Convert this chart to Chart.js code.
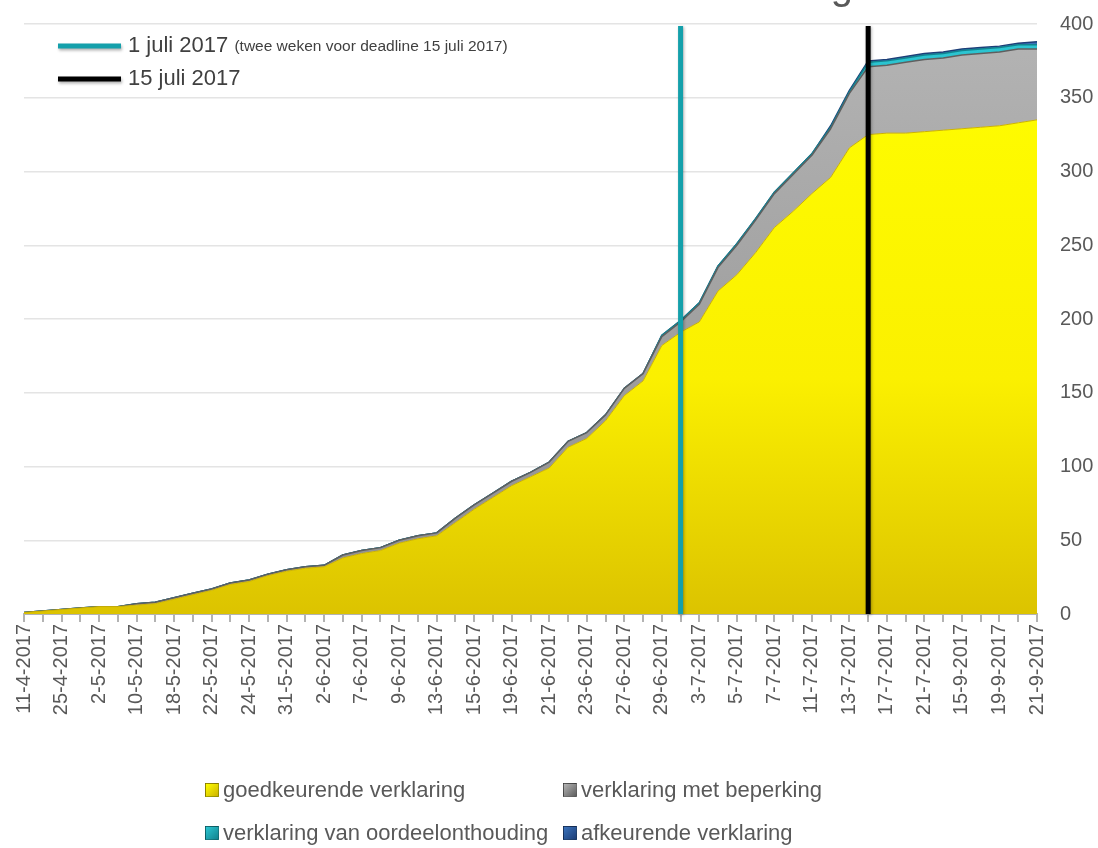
<!DOCTYPE html>
<html><head><meta charset="utf-8">
<script src="https://cdn.jsdelivr.net/npm/chart.js@4.4.0/dist/chart.umd.min.js"></script>
<style>
html,body{margin:0;padding:0;background:#fff;overflow:hidden;}
#wrap{position:relative;width:1098px;height:848px;}
#c{position:absolute;left:0;top:0;}
#legend{position:absolute;left:0;top:0;width:1098px;height:848px;pointer-events:none;font-family:'Liberation Sans',Arial,sans-serif;font-size:22px;color:#595959;}
.item{position:absolute;display:flex;align-items:center;white-space:nowrap;height:26px;}
.box{width:14px;height:14px;margin-right:4px;box-sizing:border-box;border:1px solid rgba(0,0,0,0.35);}
</style></head>
<body><div id="wrap"><canvas id="c" width="1098" height="848"></canvas><div id="legend"></div></div>
<script>
const chartTitle = 'Aantal en soort controleverklaring';

const categories = [
  '11-4-2017','20-4-2017','25-4-2017','27-4-2017','2-5-2017','8-5-2017','10-5-2017','15-5-2017',
  '18-5-2017','19-5-2017','22-5-2017','23-5-2017','24-5-2017','29-5-2017','31-5-2017','1-6-2017',
  '2-6-2017','6-6-2017','7-6-2017','8-6-2017','9-6-2017','12-6-2017','13-6-2017','14-6-2017',
  '15-6-2017','16-6-2017','19-6-2017','20-6-2017','21-6-2017','22-6-2017','23-6-2017','26-6-2017',
  '27-6-2017','28-6-2017','29-6-2017','30-6-2017','3-7-2017','4-7-2017','5-7-2017','6-7-2017',
  '7-7-2017','10-7-2017','11-7-2017','12-7-2017','13-7-2017','14-7-2017','17-7-2017','18-7-2017',
  '21-7-2017','1-9-2017','15-9-2017','18-9-2017','19-9-2017','20-9-2017','21-9-2017'
];

const goedkeurend = [1,2,3,4,5,5,6,7,10,13,16,20,22,26,29,31,32,38,41,43,48,51,53,62,71,79,87,93,99,113,119,131,148,158,182,191,198,219,230,245,262,273,285,296,316,325,326,326,327,328,329,330,331,333,335];
const beperking = [0,0,0,0,0,0,1,1,1,1,1,1,1,1,1,1,1,2,2,2,2,2,2,3,3,3,3,3,4,4,4,4,5,5,6,7,12,16,20,22,23,25,26,33,37,46,46,48,49,49,50,50,50,50,48];
const oordeelonthouding = [0,0,0,0,0,0,0,0,0,0,0,0,0,0,0,0,0,0,0,0,0,0,0,0,0,0,0,0,0,0,0,0,0,0,1,1,1,1,1,1,1,1,1,1,1,3,3,3,3,3,3,3,3,3,3];
const afkeurend = [0,0,0,0,0,0,0,0,0,0,0,0,0,0,0,0,0,0,0,0,0,0,0,0,0,0,0,0,0,0,0,0,0,0,0,0,0,0,0,0,0,0,0,1,1,1,1,1,1,1,1,1,1,1,2];

const seriesNames = ['goedkeurende verklaring','verklaring met beperking','verklaring van oordeelonthouding','afkeurende verklaring'];
const seriesColors = ['#f2e200','#9c9c9c','#1fb8c6','#2a5ea6'];
const seriesBorders = ['#cdb300','#5f5f5f','#12848f','#1d3f78'];

const yMin = 0, yMax = 400, yStep = 50;

const markerDates = ['30-6-2017','14-7-2017'];
const markerLabels = ['1 juli 2017','15 juli 2017'];
const markerNotes = ['(twee weken voor deadline 15 juli 2017)',''];
const markerColors = ['#14a0ab','#000000'];

function grad(ctx, area, stops){
  const g = ctx.createLinearGradient(0, area.top, 0, area.bottom);
  stops.forEach(s=>g.addColorStop(s[0], s[1]));
  return g;
}
const fillStops = [
  [[0,'#ffff00'],[0.6,'#fbf000'],[1,'#dcc300']],
  [[0,'#b4b4b4'],[1,'#8e8e8e']],
  [[0,'#2cc6d2'],[1,'#1aa8b5']],
  [[0,'#3a72bb'],[1,'#2a5ea6']]
];
const values = [goedkeurend, beperking, oordeelonthouding, afkeurend];

const datasets = values.map((v,i)=>({
  label: seriesNames[i],
  data: v,
  fill: i===0 ? 'origin' : '-1',
  backgroundColor: (c)=>{ const a=c.chart.chartArea; return a ? grad(c.chart.ctx, a, fillStops[i]) : seriesColors[i]; },
  borderColor: seriesBorders[i],
  borderWidth: i===0 ? 1 : 1.5,
  pointRadius: 0,
  tension: 0
}));

const extras = {
  id: 'extras',
  afterDatasetsDraw(chart){
    const {ctx, chartArea, scales} = chart;
    markerDates.forEach((d,i)=>{
      const px = scales.x.getPixelForValue(categories.indexOf(d));
      ctx.save();
      ctx.shadowColor='rgba(0,0,0,0.3)'; ctx.shadowBlur=3; ctx.shadowOffsetX=1; ctx.shadowOffsetY=1;
      ctx.strokeStyle = markerColors[i]; ctx.lineWidth = 5;
      ctx.beginPath(); ctx.moveTo(px, chartArea.top + 2); ctx.lineTo(px, chartArea.bottom); ctx.stroke();
      ctx.restore();
    });
  },
  afterDraw(chart){
    const ctx = chart.ctx;
    // title (cut off at top as in reference)
    ctx.save();
    ctx.font = '40px "Liberation Sans", Arial, sans-serif';
    ctx.fillStyle = '#595959';
    ctx.textAlign = 'center'; ctx.textBaseline = 'alphabetic';
    ctx.fillText(chartTitle, 555, -1);
    ctx.restore();
    // marker legend
    markerLabels.forEach((lab,i)=>{
      const y = 46 + i*33;
      ctx.save();
      ctx.shadowColor='rgba(0,0,0,0.3)'; ctx.shadowBlur=3; ctx.shadowOffsetX=1; ctx.shadowOffsetY=2;
      ctx.strokeStyle = markerColors[i]; ctx.lineWidth = 5;
      ctx.beginPath(); ctx.moveTo(58, y); ctx.lineTo(121, y); ctx.stroke();
      ctx.restore();
      ctx.save();
      ctx.fillStyle = '#404040'; ctx.textBaseline = 'middle'; ctx.textAlign = 'left';
      ctx.font = '22px "Liberation Sans", Arial, sans-serif';
      ctx.fillText(lab, 128, y);
      const w = ctx.measureText(lab + ' ').width;
      if (markerNotes[i]) {
        ctx.font = '15.5px "Liberation Sans", Arial, sans-serif';
        ctx.fillText(markerNotes[i], 128 + w, y + 1);
      }
      ctx.restore();
    });
  }
};

const chart = new Chart(document.getElementById('c'), {
  type: 'line',
  data: { labels: categories, datasets },
  options: {
    responsive: false,
    animation: false,
    layout: { padding: { left: 24, top: 24, right: 0, bottom: 0 } },
    plugins: { legend: { display: false }, title: { display: false }, tooltip: { enabled: false } },
    elements: { line: { borderJoinStyle: 'round' } },
    scales: {
      x: {
        offset: false,
        grid: { drawOnChartArea: false, drawTicks: true, tickLength: 8, color: '#b3b3b3', lineWidth: 2 },
        border: { display: true, color: '#b3b3b3', width: 2 },
        ticks: {
          autoSkip: false, minRotation: 90, maxRotation: 90, padding: 2,
          color: '#595959', font: { family: 'Liberation Sans', size: 20 },
          callback: (v, i) => (i % 2 === 0 ? categories[i] : '')
        },
        afterFit: (s) => { s.height = 234; s.paddingLeft = 0; s.paddingRight = 0; }
      },
      y: {
        position: 'right', stacked: true, min: yMin, max: yMax,
        grid: { color: '#e4e4e4', lineWidth: 1.5, drawTicks: false },
        border: { display: false },
        ticks: { stepSize: yStep, padding: 23, color: '#595959', font: { family: 'Liberation Sans', size: 20 } },
        afterFit: (s) => { s.width = 61; s.paddingTop = 0; s.paddingBottom = 0; }
      }
    }
  },
  plugins: [extras]
});

// bottom legend (2 columns)
const legend = document.getElementById('legend');
const colX = [205, 563], rowY = [777, 820];
chart.data.datasets.forEach((ds,i)=>{
  const it = document.createElement('div');
  it.className = 'item';
  it.style.left = colX[i%2] + 'px';
  it.style.top = rowY[Math.floor(i/2)] + 'px';
  const b = document.createElement('span');
  b.className = 'box';
  b.style.background = 'linear-gradient(135deg,' + fillStops[i][0][1] + ',' + seriesBorders[i] + ')';
  const t = document.createElement('span');
  t.textContent = ds.label;
  it.appendChild(b); it.appendChild(t);
  legend.appendChild(it);
});
</script>
</body></html>
